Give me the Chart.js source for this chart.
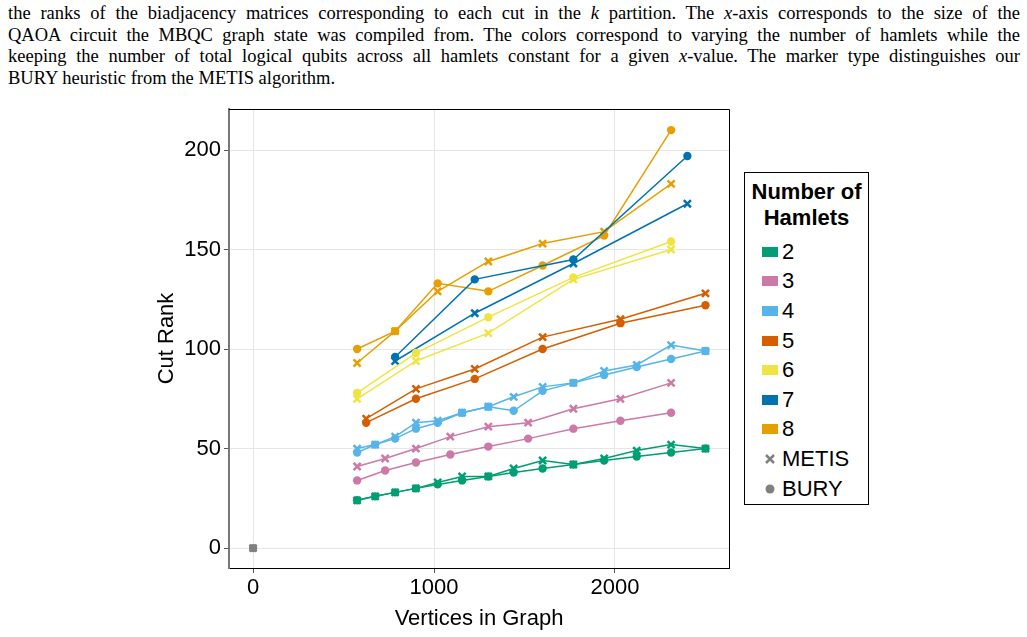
<!DOCTYPE html>
<html>
<head>
<meta charset="utf-8">
<script src="https://cdn.jsdelivr.net/npm/chart.js@4/dist/chart.umd.min.js"></script>
<style>
    body { margin: 0; width: 1027px; height: 637px; background: #fff; position: relative; overflow: hidden; }
    .caption { position: absolute; left: 8px; top: 3px; width: 1012px; font-family: 'Liberation Serif', 'DejaVu Serif', serif; font-size: 18.5px; line-height: 21.7px; color: #000; }
    .caption div { text-align: justify; text-align-last: justify; white-space: nowrap; }
    .caption div.last { text-align-last: left; }
    #chartBox { position: absolute; left: 140px; top: 100px; width: 600px; height: 537px; }
    .legend { position: absolute; left: 744px; top: 172px; width: 123px; height: 331px; border: 1px solid #000; font-family: 'Liberation Sans', Arial, sans-serif; color: #000; }
    .legend .title { font-weight: bold; font-size: 22px; line-height: 26px; text-align: center; margin-top: 6px; margin-bottom: 6px; }
    .legend .item { height: 29.6px; display: flex; align-items: center; font-size: 22px; }
    .legend .patch { width: 16px; height: 10px; margin-left: 17px; margin-right: 4px; }
    .legend svg { margin-left: 17px; margin-right: 4px; }
</style>
</head>
<body>
<div class="caption">
    <div>the ranks of the biadjacency matrices corresponding to each cut in the <i>k</i> partition. The <i>x</i>-axis corresponds to the size of the</div>
    <div>QAOA circuit the MBQC graph state was compiled from. The colors correspond to varying the number of hamlets while the</div>
    <div>keeping the number of total logical qubits across all hamlets constant for a given <i>x</i>-value. The marker type distinguishes our</div>
    <div class="last">BURY heuristic from the METIS algorithm.</div>
</div>
<div id="chartBox"><canvas id="rankChart" width="600" height="537"></canvas></div>
<div class="legend" id="legend"></div>
<script>
// Hamlet counts and their colours
const hamlets = ['2', '3', '4', '5', '6', '7', '8'];
const hamletColors = ['#009E73', '#CC79A7', '#56B4E9', '#D55E00', '#F0E442', '#0072B2', '#E69F00'];

// Vertices in graph (x) per hamlet count
const x2 = [575, 675, 785, 900, 1020, 1155, 1300, 1440, 1600, 1770, 1940, 2120, 2310, 2500];
const x3 = [575, 730, 900, 1090, 1300, 1520, 1770, 2030, 2310];
const x4 = [575, 675, 785, 900, 1020, 1155, 1300, 1440, 1600, 1770, 1940, 2120, 2310, 2500];
const x5 = [625, 900, 1225, 1600, 2030, 2500];
const x6 = [575, 900, 1300, 1770, 2310];
const x7 = [785, 1225, 1770, 2400];
const x8 = [575, 785, 1020, 1300, 1600, 1940, 2310];

// Cut rank, BURY heuristic
const bury2 = [24, 26, 28, 30, 32, 34, 36, 38, 40, 42, 44, 46, 48, 50];
const bury3 = [34, 39, 43, 47, 51, 55, 60, 64, 68];
const bury4 = [48, 52, 55, 60, 63, 68, 71, 69, 79, 83, 87, 91, 95, 99];
const bury5 = [63, 75, 85, 100, 113, 122];
const bury6 = [78, 98, 116, 136, 154];
const bury7 = [96, 135, 145, 197];
const bury8 = [100, 109, 133, 129, 142, 157, 210];

// Cut rank, METIS
const metis2 = [24, 26, 28, 30, 33, 36, 36, 40, 44, 42, 45, 49, 52, 50];
const metis3 = [41, 45, 50, 56, 61, 63, 70, 75, 83];
const metis4 = [50, 52, 56, 63, 64, 68, 71, 76, 81, 83, 89, 92, 102, 99];
const metis5 = [65, 80, 90, 106, 115, 128];
const metis6 = [75, 94, 108, 135, 150];
const metis7 = [94, 118, 143, 173];
const metis8 = [93, 109, 129, 144, 153, 159, 183];

// Axis ticks
const xTicks = [0, 1000, 2000];
const yTicks = [0, 50, 100, 150, 200];

const xs = [x2, x3, x4, x5, x6, x7, x8];
const burys = [bury2, bury3, bury4, bury5, bury6, bury7, bury8];
const metises = [metis2, metis3, metis4, metis5, metis6, metis7, metis8];

const AXIS_FONT = { family: "'Liberation Sans', Arial, sans-serif", size: 22 };
const GREY = '#808080';

function makeSeries(x, y, color, style) {
    return {
        data: x.map((v, i) => ({ x: v, y: y[i] })),
        borderColor: color,
        backgroundColor: color,
        pointBackgroundColor: color,
        pointBorderColor: color,
        borderWidth: 1.5,
        pointStyle: style,
        pointRadius: style === 'circle' ? 4.2 : 5,
        pointBorderWidth: style === 'circle' ? 0 : 2.5,
        showLine: true,
        tension: 0
    };
}

const datasets = [];
hamlets.forEach((h, i) => {
    datasets.push(makeSeries(xs[i], metises[i], hamletColors[i], 'crossRot'));
    datasets.push(makeSeries(xs[i], burys[i], hamletColors[i], 'circle'));
});
// grey origin markers used for the marker-type legend
datasets.push(makeSeries([0], [0], GREY, 'crossRot'));
datasets.push(makeSeries([0], [0], GREY, 'circle'));

// Frame around the plot area
const framePlugin = {
    id: 'frame',
    afterDraw(chart) {
        const { ctx, chartArea: a } = chart;
        ctx.save();
        ctx.strokeStyle = '#000';
        ctx.lineWidth = 1;
        ctx.beginPath();
        ctx.moveTo(a.left, a.top + 0.5);
        ctx.lineTo(a.right + 0.5, a.top + 0.5);
        ctx.lineTo(a.right + 0.5, a.bottom);
        ctx.stroke();
        ctx.restore();
    }
};

new Chart(document.getElementById('rankChart').getContext('2d'), {
    type: 'line',
    data: { datasets },
    options: {
        responsive: false,
        animation: false,
        devicePixelRatio: 1,
        layout: { padding: { top: 9, right: 11, left: 0, bottom: 0 } },
        plugins: { legend: { display: false }, tooltip: { enabled: false } },
        scales: {
            x: {
                type: 'linear',
                min: -133,
                max: 2630,
                afterBuildTicks: s => { s.ticks = xTicks.map(v => ({ value: v })); },
                afterFit: s => { s.height = 69; s.paddingLeft = 0; s.paddingRight = 0; },
                grid: { color: '#e6e6e6', tickColor: '#555', tickLength: 5 },
                border: { color: '#000', width: 1 },
                ticks: { color: '#000', font: AXIS_FONT, padding: 2, maxRotation: 0, callback: v => String(v) },
                title: { display: true, text: 'Vertices in Graph', color: '#000', font: AXIS_FONT, padding: { top: 5, bottom: 5 } }
            },
            y: {
                type: 'linear',
                min: -10,
                max: 220.6,
                afterBuildTicks: s => { s.ticks = yTicks.map(v => ({ value: v })); },
                afterFit: s => { s.width = 89; s.paddingTop = 0; s.paddingBottom = 0; },
                grid: { color: '#e6e6e6', tickColor: '#555', tickLength: 5 },
                border: { color: '#777', width: 2 },
                ticks: { color: '#000', font: AXIS_FONT, padding: 3, callback: v => String(v) },
                title: { display: true, text: 'Cut Rank', color: '#000', font: AXIS_FONT, padding: { top: 14, bottom: 14 } }
            }
        }
    },
    plugins: [framePlugin]
});

// Legend
const legend = document.getElementById('legend');
let html = '<div class="title">Number of<br>Hamlets</div>';
hamlets.forEach((h, i) => {
    html += `<div class="item"><span class="patch" style="background:${hamletColors[i]}"></span>${h}</div>`;
});
html += `<div class="item"><svg width="16" height="12"><path d="M4 2 L12 10 M12 2 L4 10" stroke="${GREY}" stroke-width="2.5"/></svg>METIS</div>`;
html += `<div class="item"><svg width="16" height="12"><circle cx="8" cy="6" r="4.5" fill="${GREY}"/></svg>BURY</div>`;
legend.innerHTML = html;
</script>
</body>
</html>
